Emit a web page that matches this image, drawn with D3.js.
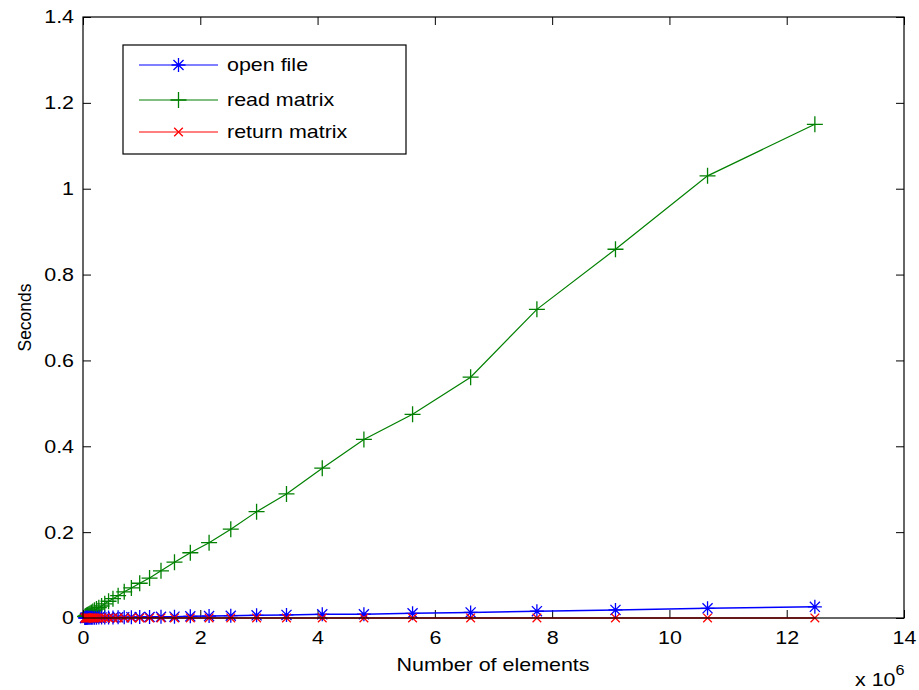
<!DOCTYPE html>
<html><head><meta charset="utf-8">
<script src="https://cdn.jsdelivr.net/npm/d3@7"></script>
<style>
body{margin:0;background:#fff;}
svg text{font-family:"Liberation Sans",Arial,sans-serif;fill:#000;}
</style></head>
<body><svg id="c" width="919" height="690"></svg>
<script>
// Number of elements (x 10^6)
const elements = [0.034,0.040,0.047,0.055,0.064,0.075,0.088,0.104,0.122,0.143,0.167,0.196,0.230,0.270,0.317,0.371,0.436,0.511,0.599,0.703,0.825,0.967,1.135,1.33,1.56,1.83,2.15,2.52,2.96,3.47,4.08,4.79,5.62,6.61,7.74,9.08,10.65,12.48];
const openFile = [0.0002,0.0002,0.0003,0.0003,0.0003,0.0004,0.0004,0.0005,0.0005,0.0006,0.0006,0.0007,0.0008,0.0009,0.0010,0.0011,0.0012,0.0013,0.0015,0.0017,0.0019,0.0021,0.0024,0.0028,0.0032,0.0038,0.0045,0.0053,0.0062,0.0072,0.0086,0.0088,0.011,0.013,0.016,0.0188,0.0225,0.026];
const readMatrix = [0.0031,0.0037,0.0043,0.005,0.006,0.007,0.008,0.0095,0.011,0.013,0.015,0.018,0.021,0.024,0.028,0.033,0.039,0.045,0.052,0.061,0.070,0.081,0.093,0.110,0.130,0.152,0.1755,0.207,0.2476,0.289,0.349,0.416,0.4745,0.561,0.719,0.859,1.030,1.150];
const returnMatrix = [0.0001,0.0001,0.0001,0.0001,0.0001,0.0001,0.0001,0.0001,0.0001,0.0001,0.0001,0.0001,0.0001,0.0001,0.0001,0.0001,0.0001,0.0001,0.0001,0.0001,0.0001,0.0001,0.0001,0.0001,0.0001,0.0001,0.0001,0.0001,0.0001,0.0001,0.0001,0.0001,0.0001,0.0001,0.0001,0.0001,0.0001,0.0001];
const seriesNames = ["open file","read matrix","return matrix"];
const seriesColors = ["#0000ff","#008000","#ff0000"];
const seriesMarkers = ["star","plus","cross"];
const xTicks = [0,2,4,6,8,10,12,14];
const yTicks = [0,0.2,0.4,0.6,0.8,1,1.2,1.4];

const L=83,R=904,T=17,B=618;
const svg=d3.select("#c");
const x=d3.scaleLinear().domain([0,14]).range([L,R]);
const y=d3.scaleLinear().domain([0,1.4]).range([B,T]);
const tl=8;
const fs=18.5, sx=1.16;
function stretch(sel,origin){
  sel.style("transform",`scaleX(${sx})`).style("transform-box","fill-box").style("transform-origin",origin);
}

// axes
const gx=svg.append("g").attr("transform",`translate(0,${B})`)
  .call(d3.axisBottom(x).tickValues(xTicks).tickFormat(d3.format("d")).tickSizeInner(-tl).tickSizeOuter(0).tickPadding(13));
const gxt=svg.append("g").attr("transform",`translate(0,${T})`)
  .call(d3.axisTop(x).tickValues(xTicks).tickFormat("").tickSizeInner(-tl).tickSizeOuter(0));
const gy=svg.append("g").attr("transform",`translate(${L},0)`)
  .call(d3.axisLeft(y).tickValues(yTicks).tickFormat(d=>d3.format("~g")(d)).tickSizeInner(-tl).tickSizeOuter(0).tickPadding(9));
const gyr=svg.append("g").attr("transform",`translate(${R},0)`)
  .call(d3.axisRight(y).tickValues(yTicks).tickFormat("").tickSizeInner(-tl).tickSizeOuter(0));
[gx,gxt,gy,gyr].forEach(g=>{g.select(".domain").remove();g.selectAll("line").attr("stroke","#000").attr("stroke-width",1);
  g.selectAll("text").attr("font-size",fs).attr("font-family","Liberation Sans, Arial, sans-serif").attr("fill","#000");});
gx.selectAll("text").attr("dy","0.71em");
stretch(gx.selectAll("text"),"center");
stretch(gy.selectAll("text"),"right center");

// data
const sets=[openFile,readMatrix,returnMatrix];
function marker(g,type,cx,cy,color,s){
  let p="";
  if(type==="plus"||type==="star") p+=`M${cx-s},${cy}H${cx+s}M${cx},${cy-s}V${cy+s}`;
  if(type==="cross"||type==="star"){const d=s*0.72;p+=`M${cx-d},${cy-d}L${cx+d},${cy+d}M${cx-d},${cy+d}L${cx+d},${cy-d}`;}
  g.append("path").attr("d",p).attr("stroke",color).attr("stroke-width",1.3).attr("fill","none");
}
const line=d3.line().x(d=>x(d[0])).y(d=>y(d[1]));
const sizes=[7,8,6];
[1,0,2].forEach(i=>{
  const pts=elements.map((e,k)=>[e,sets[i][k]]);
  const g=svg.append("g");
  g.append("path").datum(pts).attr("d",line).attr("fill","none").attr("stroke",seriesColors[i]).attr("stroke-width",i===1?1.2:1.5);
  pts.forEach(p=>marker(g,seriesMarkers[i],x(p[0]),y(p[1]),seriesColors[i],sizes[i]));
});

// box
svg.append("rect").attr("x",L).attr("y",T).attr("width",R-L).attr("height",B-T).attr("fill","none").attr("stroke","#000").attr("stroke-width",1.2);

// labels
const xl=svg.append("text").attr("x",(L+R)/2-0.5).attr("y",671).attr("text-anchor","middle").attr("font-size",fs).text("Number of elements");
stretch(xl,"center");
svg.append("text").attr("transform",`translate(31,${(T+B)/2}) rotate(-90)`).attr("text-anchor","middle").attr("font-size",17.5).text("Seconds");
const ex=svg.append("text").attr("x",855).attr("y",686).attr("font-size",fs);
ex.append("tspan").text("x 10");
ex.append("tspan").attr("dy",-11).attr("font-size",14).text("6");
stretch(ex,"left center");

// legend
const lg=svg.append("g");
lg.append("rect").attr("x",123).attr("y",45).attr("width",283).attr("height",109).attr("fill","#fff").attr("stroke","#000").attr("stroke-width",1.2);
const rowsY=[65,100,132];
seriesNames.forEach((n,i)=>{
  lg.append("line").attr("x1",139).attr("x2",218).attr("y1",rowsY[i]).attr("y2",rowsY[i]).attr("stroke",seriesColors[i]).attr("stroke-width",1.2);
  marker(lg,seriesMarkers[i],178.5,rowsY[i],seriesColors[i],sizes[i]);
  const t=lg.append("text").attr("x",227).attr("y",rowsY[i]).attr("dy","0.35em").attr("font-size",fs).text(n);
  stretch(t,"left center");
});
</script></body></html>
